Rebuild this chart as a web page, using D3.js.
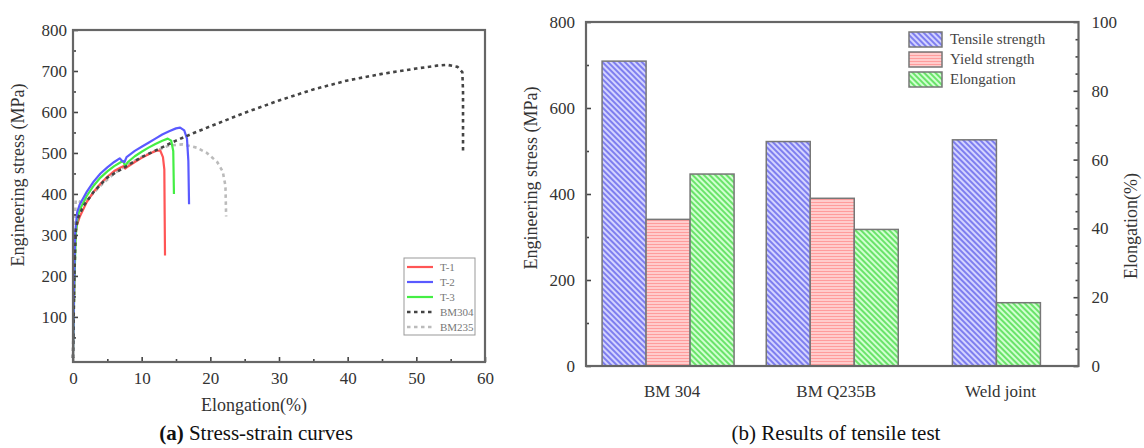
<!DOCTYPE html>
<html>
<head>
<meta charset="utf-8">
<script src="https://cdn.jsdelivr.net/npm/d3@7"></script>
<style>
  html, body { margin: 0; padding: 0; background: #fff; }
  svg { display: block; }
  text { font-family: 'Liberation Serif', 'DejaVu Serif', serif; fill: #333; }
</style>
</head>
<body>
<svg id="chart" width="1144" height="448"></svg>
<script>
// ---- (a) stress-strain curves, [elongation %, stress MPa]
const T1 = [[0,0],[0.15,150],[0.3,280],[0.5,320],[1,345],[2,380],[3,405],[4,425],[5,442],[6,456],[7,465],[7.4,468],[7.6,462],[8,467],[9,478],[10,488],[11,497],[12,505],[12.7,506],[13.1,490],[13.3,460],[13.35,350],[13.4,250]];
const T2 = [[0,0],[0.15,170],[0.3,300],[0.6,355],[1,375],[2,405],[3,430],[4,450],[5,465],[6,478],[6.8,487],[7.2,480],[7.5,478],[7.8,490],[9,505],[10,515],[11,525],[12,535],[13,545],[14,553],[15,560],[15.6,562],[16.2,555],[16.6,535],[16.8,480],[16.9,375]];
const T3 = [[0,0],[0.2,180],[0.4,300],[0.7,345],[1,362],[2,395],[3,420],[4,440],[5,455],[6,468],[7,478],[7.3,480],[7.6,468],[8,478],[9,492],[10,503],[11,513],[12,522],[13,530],[13.8,535],[14.3,530],[14.6,505],[14.7,400]];
const BM304 = [[0,0],[0.2,200],[0.4,310],[0.7,340],[1.5,370],[3,405],[5,440],[7.5,465],[10,490],[12.5,510],[15,530],[17.5,548],[20,565],[25,598],[30,628],[35,655],[40,677],[45,693],[50,706],[53,713],[54.5,715],[56,710],[56.7,697],[56.8,650],[56.8,500]];
const BM235 = [[0,0],[0.2,300],[0.4,385],[1.2,380],[2,385],[4,420],[6,450],[8,472],[10,490],[12,505],[14,518],[16,521],[18,513],[19.5,500],[21,478],[21.8,455],[22.2,420],[22.3,345]];
const curveNames = ['T-1', 'T-2', 'T-3', 'BM304', 'BM235'];

// ---- (b) tensile test results
const groups = ['BM 304', 'BM Q235B', 'Weld joint'];
const tensile = [709, 522, 526];
const yieldStr = [341, 390, null];
const elongation = [55.8, 39.7, 18.4];
const barNames = ['Tensile strength', 'Yield strength', 'Elongation'];

const FONT = "'Liberation Serif', 'DejaVu Serif', serif";
const svg = d3.select('#chart');
const defs = svg.append('defs');

function hatch(id, bg, fg, angle, gap) {
    const p = defs.append('pattern')
        .attr('id', id)
        .attr('patternUnits', 'userSpaceOnUse')
        .attr('width', gap).attr('height', gap)
        .attr('patternTransform', `rotate(${angle})`);
    p.append('rect').attr('width', gap).attr('height', gap).attr('fill', bg);
    p.append('line').attr('x1', 0).attr('x2', gap).attr('y1', gap / 2).attr('y2', gap / 2)
        .attr('stroke', fg).attr('stroke-width', gap * 0.45);
}
hatch('hTensile', '#d4d4ff', '#7474ee', 45, 4);
hatch('hYield', '#ffd6d6', '#ff9c9c', 0, 3);
hatch('hElong', '#d2ffd2', '#5ee05e', 45, 4);

function styleAxis(g) {
    g.attr('font-family', FONT);
    g.select('.domain').remove();
    g.selectAll('line').attr('stroke', '#444').attr('stroke-width', 1.6);
    g.selectAll('text').attr('font-size', 17).attr('fill', '#333')
        .attr('font-family', FONT);
}

// ================= (a) =================
const ax = { l: 73, r: 485, t: 30, b: 362 };
const x1 = d3.scaleLinear().domain([0, 60]).range([ax.l, ax.r]);
const y1 = d3.scaleLinear().domain([-10, 800]).range([ax.b, ax.t]);

const gA = svg.append('g');

const line = d3.line().x(d => x1(d[0])).y(d => y1(d[1])).curve(d3.curveLinear);
const series = [
    { name: 'T-1', data: T1, color: '#ff5555', dash: null, w: 2.2 },
    { name: 'T-2', data: T2, color: '#5a5aff', dash: null, w: 2.2 },
    { name: 'T-3', data: T3, color: '#44ee44', dash: null, w: 2.2 },
    { name: 'BM304', data: BM304, color: '#444', dash: '3.5,3.5', w: 2.6 },
    { name: 'BM235', data: BM235, color: '#bbb', dash: '3.5,3.5', w: 2.6 }
];
[series[4], series[0], series[2], series[1], series[3]].forEach(s => {
    gA.append('path')
        .attr('d', line(s.data))
        .attr('fill', 'none')
        .attr('stroke', s.color)
        .attr('stroke-width', s.w)
        .attr('stroke-dasharray', s.dash)
        .attr('stroke-linejoin', 'round');
});

// axes, ticks point inward
const axY1 = gA.append('g').attr('transform', `translate(${ax.l},0)`)
    .call(d3.axisLeft(y1).tickValues(d3.range(100, 801, 100)).tickSize(-5).tickPadding(6));
const axY1m = gA.append('g').attr('transform', `translate(${ax.l},0)`)
    .call(d3.axisLeft(y1).tickValues(d3.range(50, 800, 100)).tickSize(-3).tickFormat(''));
const axX1 = gA.append('g').attr('transform', `translate(0,${ax.b})`)
    .call(d3.axisBottom(x1).tickValues(d3.range(0, 61, 10)).tickSize(-5).tickPadding(10));
const axX1m = gA.append('g').attr('transform', `translate(0,${ax.b})`)
    .call(d3.axisBottom(x1).tickValues(d3.range(5, 60, 10)).tickSize(-3).tickFormat(''));
[axY1, axY1m, axX1, axX1m].forEach(styleAxis);
gA.append('rect')
    .attr('x', ax.l).attr('y', ax.t)
    .attr('width', ax.r - ax.l).attr('height', ax.b - ax.t)
    .attr('fill', 'none').attr('stroke', '#666').attr('stroke-width', 2.2);

gA.append('text')
    .attr('transform', `translate(24,175) rotate(-90)`)
    .attr('text-anchor', 'middle').attr('font-size', 18)
    .text('Engineering  stress (MPa)');
gA.append('text')
    .attr('x', 254).attr('y', 411)
    .attr('text-anchor', 'middle').attr('font-size', 18)
    .text('Elongation(%)');
const capA = gA.append('text')
    .attr('x', 256).attr('y', 440)
    .attr('text-anchor', 'middle').attr('font-size', 21).style('fill', '#111');
capA.append('tspan').attr('font-weight', 'bold').text('(a)');
capA.append('tspan').text(' Stress-strain  curves');

// legend (a)
const legA = gA.append('g').attr('transform', 'translate(404,258)');
legA.append('rect').attr('width', 71).attr('height', 77)
    .attr('fill', '#fff').attr('stroke', '#999').attr('stroke-width', 1);
curveNames.forEach((n, i) => {
    const s = series.find(d => d.name === n);
    const yy = 9 + i * 15;
    legA.append('line')
        .attr('x1', 3).attr('x2', 29).attr('y1', yy).attr('y2', yy)
        .attr('stroke', s.color).attr('stroke-width', s.w)
        .attr('stroke-dasharray', s.dash);
    legA.append('text').attr('x', 36).attr('y', yy + 4)
        .attr('font-size', 11).style('fill', '#777').text(n);
});

// ================= (b) =================
const bx = { l: 586, r: 1078.5, t: 22, b: 366 };
const xb = d3.scaleBand().domain(groups).range([bx.l, bx.r]).padding(0);
const yL = d3.scaleLinear().domain([0, 800]).range([bx.b, bx.t]);
const yR = d3.scaleLinear().domain([0, 100]).range([bx.b, bx.t]);
const barW = xb.step() * 0.268;

const gB = svg.append('g');

groups.forEach((g, gi) => {
    const bars = [];
    if (tensile[gi] != null) bars.push({ v: tensile[gi], s: yL, fill: 'url(#hTensile)' });
    if (yieldStr[gi] != null) bars.push({ v: yieldStr[gi], s: yL, fill: 'url(#hYield)' });
    if (elongation[gi] != null) bars.push({ v: elongation[gi], s: yR, fill: 'url(#hElong)' });
    const cx = xb(g) + xb.bandwidth() / 2;
    const x0 = cx - bars.length * barW / 2;
    bars.forEach((b, i) => {
        gB.append('rect')
            .attr('x', x0 + i * barW)
            .attr('y', b.s(b.v))
            .attr('width', barW)
            .attr('height', b.s(0) - b.s(b.v))
            .attr('fill', b.fill)
            .attr('stroke', '#777').attr('stroke-width', 1.5);
    });
});

const axL = gB.append('g').attr('transform', `translate(${bx.l},0)`)
    .call(d3.axisLeft(yL).tickValues(d3.range(0, 801, 200)).tickSize(-5).tickPadding(11));
const axLm = gB.append('g').attr('transform', `translate(${bx.l},0)`)
    .call(d3.axisLeft(yL).tickValues(d3.range(100, 800, 200)).tickSize(-3).tickFormat(''));
const axR = gB.append('g').attr('transform', `translate(${bx.r},0)`)
    .call(d3.axisRight(yR).tickValues(d3.range(0, 101, 20)).tickSize(-5).tickPadding(13));
const axRm = gB.append('g').attr('transform', `translate(${bx.r},0)`)
    .call(d3.axisRight(yR).tickValues(d3.range(5, 100, 5).filter(v => v % 20)).tickSize(-3).tickFormat(''));
const axB = gB.append('g').attr('transform', `translate(0,${bx.b})`)
    .call(d3.axisBottom(xb).tickSize(0).tickPadding(19));
[axL, axLm, axR, axRm, axB].forEach(styleAxis);
axB.selectAll('text').attr('dx', 4);
gB.append('rect')
    .attr('x', bx.l).attr('y', bx.t)
    .attr('width', bx.r - bx.l).attr('height', bx.b - bx.t)
    .attr('fill', 'none').attr('stroke', '#666').attr('stroke-width', 2.2);

gB.append('text')
    .attr('transform', `translate(537,178) rotate(-90)`)
    .attr('text-anchor', 'middle').attr('font-size', 18)
    .text('Engineering  stress (MPa)');
gB.append('text')
    .attr('transform', `translate(1137,226) rotate(-90)`)
    .attr('text-anchor', 'middle').attr('font-size', 18)
    .text('Elongation(%)');
const capB = gB.append('text')
    .attr('x', 836).attr('y', 440)
    .attr('text-anchor', 'middle').attr('font-size', 21).style('fill', '#111');
capB.append('tspan').text('(b)');
capB.append('tspan').text(' Results of tensile test');

// legend (b)
const legFills = ['url(#hTensile)', 'url(#hYield)', 'url(#hElong)'];
barNames.forEach((n, i) => {
    const yy = 32 + i * 20;
    gB.append('rect').attr('x', 909).attr('y', yy).attr('width', 33).attr('height', 15)
        .attr('fill', legFills[i]).attr('stroke', '#777').attr('stroke-width', 1.5);
    gB.append('text').attr('x', 950).attr('y', yy + 12)
        .attr('font-size', 15).style('fill', '#444').text(n);
});
</script>
</body>
</html>
